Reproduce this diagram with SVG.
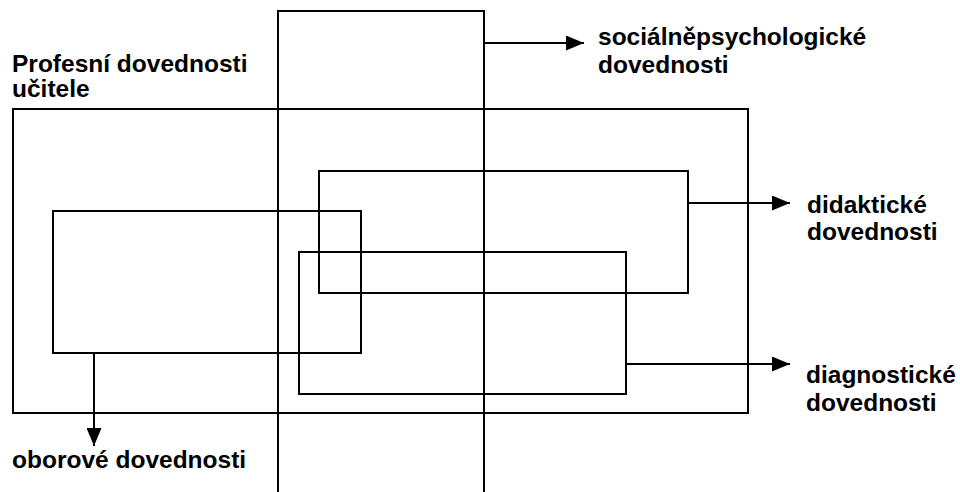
<svg xmlns="http://www.w3.org/2000/svg" width="960" height="492" viewBox="0 0 960 492">
<style>
.box{fill:none;stroke:#000;stroke-width:2}
.con{fill:none;stroke:#000;stroke-width:2}
text{font-family:"Liberation Sans",Arial,sans-serif;font-weight:bold;font-size:24.5px;fill:#000}
</style>
<defs>
<marker id="ah" markerWidth="18" markerHeight="15" refX="18" refY="7.5" orient="auto" markerUnits="userSpaceOnUse">
<path d="M0,0 L18,7.5 L0,15 Z" fill="#000"/>
</marker>
</defs>
<rect width="960" height="492" fill="#fff"/>
<g id="profesni">
<rect class="box" x="13" y="109" width="735" height="304"/>
<text x="12" y="72">Profesní dovednosti</text>
<text x="12" y="97">učitele</text>
</g>
<g id="socialne">
<path class="box" d="M278,492 L278,11 L484,11 L484,492"/>
<text x="598" y="45">sociálněpsychologické</text>
<text x="598" y="73">dovednosti</text>
</g>
<g id="didakticke">
<rect class="box" x="319" y="171" width="369" height="122"/>
<text x="807" y="213">didaktické</text>
<text x="807" y="240">dovednosti</text>
</g>
<g id="oborove">
<rect class="box" x="53" y="211" width="308" height="142"/>
<text x="12" y="468">oborové dovednosti</text>
</g>
<g id="diagnosticke">
<rect class="box" x="299" y="252" width="327" height="142"/>
<text x="806" y="383">diagnostické</text>
<text x="806" y="411">dovednosti</text>
</g>
<g id="connectors">
<line class="con" x1="484" y1="43" x2="584" y2="43" marker-end="url(#ah)"/>
<line class="con" x1="688" y1="203" x2="790" y2="203" marker-end="url(#ah)"/>
<line class="con" x1="626" y1="364" x2="790" y2="364" marker-end="url(#ah)"/>
<line class="con" x1="94" y1="353" x2="94" y2="446" marker-end="url(#ah)"/>
</g>
</svg>
